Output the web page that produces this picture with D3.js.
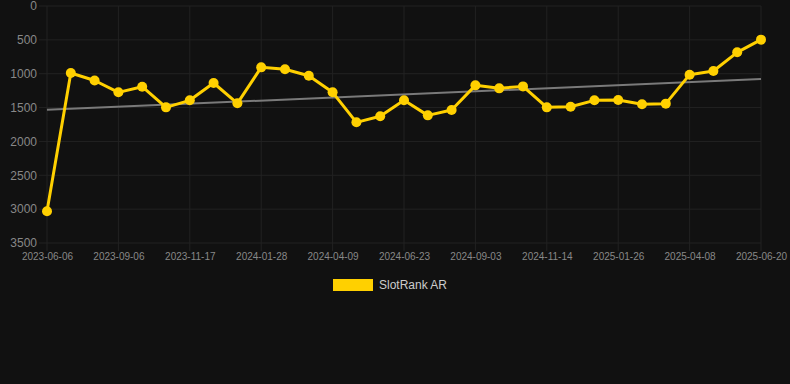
<!DOCTYPE html>
<html>
<head>
<meta charset="utf-8">
<script src="https://cdn.jsdelivr.net/npm/d3@7"></script>
<style>
  html, body { margin: 0; padding: 0; background: #111111; }
  svg { display: block; font-family: "Liberation Sans", Arial, sans-serif; }
</style>
</head>
<body>
<div id="chart"></div>
<script>
// dates along the x axis (every third one is printed)
const dates = [
  '2023-06-06', '2023-07-06', '2023-08-06', '2023-09-06', '2023-09-30', '2023-10-24',
  '2023-11-17', '2023-12-11', '2024-01-04', '2024-01-28', '2024-02-21', '2024-03-16',
  '2024-04-09', '2024-05-04', '2024-05-29', '2024-06-23', '2024-07-17', '2024-08-10',
  '2024-09-03', '2024-09-27', '2024-10-21', '2024-11-14', '2024-12-08', '2025-01-02',
  '2025-01-26', '2025-02-19', '2025-03-15', '2025-04-08', '2025-05-02', '2025-05-26',
  '2025-06-20'
];
// SlotRank AR values
const ranks = [
  3030, 990, 1100, 1275, 1192, 1497, 1393, 1137, 1437, 906,
  935, 1029, 1275, 1718, 1629, 1393, 1615, 1536, 1172, 1216,
  1187, 1497, 1487, 1393, 1388, 1452, 1442, 1014, 960, 684,
  497
];
const yTicks = [0, 500, 1000, 1500, 2000, 2500, 3000, 3500];
const seriesName = 'SlotRank AR';

let width = 790, height = 384;
let margin = {top: 6, right: 29, bottom: 141, left: 47};
let innerW = width - margin.left - margin.right,
    innerH = height - margin.top - margin.bottom;

let svg = d3.select('#chart').append('svg')
  .attr('width', width)
  .attr('height', height);

svg.append('rect').attr('width', width).attr('height', height).attr('fill', '#111111');

let g = svg.append('g').attr('transform', `translate(${margin.left},${margin.top})`);

let x = d3.scalePoint().domain(dates).range([0, innerW]);
let y = d3.scaleLinear().domain([0, 3500]).range([0, innerH]);

let shown = dates.filter((d, i) => i % 3 === 0);

// grid
g.append('g')
  .selectAll('line.h')
  .data(yTicks)
  .join('line')
  .attr('x1', -8).attr('x2', innerW)
  .attr('y1', d => y(d)).attr('y2', d => y(d))
  .attr('stroke', '#222222').attr('stroke-width', 1);

g.append('g')
  .selectAll('line.v')
  .data(shown)
  .join('line')
  .attr('x1', d => x(d)).attr('x2', d => x(d))
  .attr('y1', 0).attr('y2', innerH + 8)
  .attr('stroke', '#222222').attr('stroke-width', 1);

// axes
let yAxis = d3.axisLeft(y).tickValues(yTicks).tickSize(0).tickPadding(10).tickFormat(d3.format('d'));
g.append('g').call(yAxis)
  .call(a => a.select('.domain').remove())
  .selectAll('text')
  .attr('fill', '#888888')
  .attr('font-size', 12);

let xAxis = d3.axisBottom(x).tickValues(shown).tickSize(0).tickPadding(10);
g.append('g').attr('transform', `translate(0,${innerH})`).call(xAxis)
  .call(a => a.select('.domain').remove())
  .selectAll('text')
  .attr('fill', '#888888')
  .attr('font-size', 10);

// trend line (least squares on the series)
let n = ranks.length,
    mx = d3.mean(ranks, (d, i) => i),
    my = d3.mean(ranks);
let slope = d3.sum(ranks, (d, i) => (i - mx) * (d - my)) / d3.sum(ranks, (d, i) => (i - mx) * (i - mx));
let icpt = my - slope * mx;
g.append('line')
  .attr('x1', x(dates[0])).attr('y1', y(icpt))
  .attr('x2', x(dates[n - 1])).attr('y2', y(icpt + slope * (n - 1)))
  .attr('stroke', '#7a7a7a').attr('stroke-width', 2);

// series
let line = d3.line()
  .x((d, i) => x(dates[i]))
  .y(d => y(d));

g.append('path')
  .datum(ranks)
  .attr('d', line)
  .attr('fill', 'none')
  .attr('stroke', '#ffd000')
  .attr('stroke-width', 3)
  .attr('stroke-linejoin', 'round');

g.append('g')
  .selectAll('circle')
  .data(ranks)
  .join('circle')
  .attr('cx', (d, i) => x(dates[i]))
  .attr('cy', d => y(d))
  .attr('r', 5)
  .attr('fill', '#ffd000');

// legend
let legend = svg.append('g').attr('transform', 'translate(333,279)');
legend.append('rect').attr('width', 40).attr('height', 12).attr('fill', '#ffd000');
legend.append('text')
  .attr('x', 46).attr('y', 10)
  .attr('fill', '#cccccc')
  .attr('font-size', 12)
  .text(seriesName);
</script>
</body>
</html>
